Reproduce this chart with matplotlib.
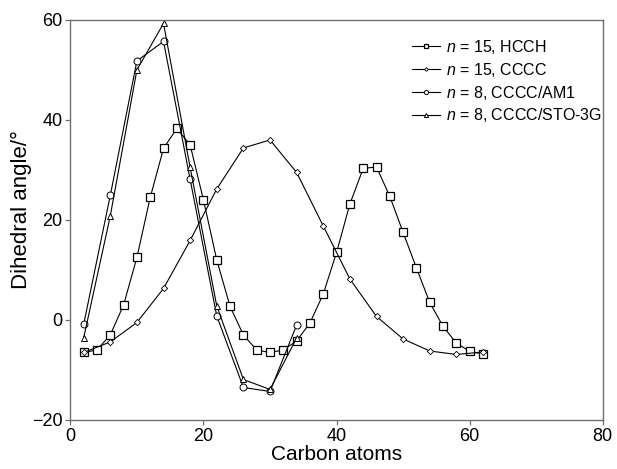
import matplotlib
matplotlib.use("Agg")
import matplotlib.pyplot as plt

plt.rcParams['font.family'] = ['Liberation Sans', 'DejaVu Sans']
plt.rcParams['mathtext.fontset'] = 'custom'
plt.rcParams['mathtext.rm'] = 'Liberation Sans'
plt.rcParams['mathtext.it'] = 'Liberation Sans:italic'

# Data
hcch_x = list(range(2, 63, 2))
hcch_y = [-6.5, -6.0, -3.0, 3.0, 12.5, 24.5, 34.3, 38.3, 35.0, 24.0, 12.0, 2.7,
          -3.0, -6.0, -6.5, -6.0, -4.2, -0.6, 5.2, 13.5, 23.2, 30.3, 30.6, 24.7,
          17.5, 10.4, 3.5, -1.3, -4.6, -6.3, -6.8]

cccc_x = list(range(2, 63, 4))
cccc_y = [-6.5, -4.4, -0.5, 6.3, 15.9, 26.2, 34.4, 36.0, 29.5, 18.8, 8.2, 0.7,
          -3.8, -6.2, -6.9, -6.4]

am1_x = [2, 6, 10, 14, 18, 22, 26, 30, 34]
am1_y = [-0.9, 24.9, 51.8, 55.7, 28.1, 0.8, -13.5, -14.3, -1.0]

sto_x = [2, 6, 10, 14, 18, 22, 26, 30, 34]
sto_y = [-3.6, 20.8, 50.0, 59.3, 30.5, 2.8, -11.9, -13.9, -3.6]

labels = [r'$\mathit{n}$ = 15, HCCH', r'$\mathit{n}$ = 15, CCCC',
          r'$\mathit{n}$ = 8, CCCC/AM1', r'$\mathit{n}$ = 8, CCCC/STO-3G']

fig = plt.figure(figsize=(6.17, 4.69), dpi=100)
ax = fig.add_axes([0.114, 0.1045, 0.863, 0.853])

lw = 0.8
ax.plot(hcch_x, hcch_y, '-', color='black', lw=lw, marker='s', ms=5.2,
        mfc='white', mec='black', mew=0.9, label=labels[0])
ax.plot(cccc_x, cccc_y, '-', color='black', lw=lw, marker='D', ms=3.2,
        mfc='white', mec='black', mew=0.6, label=labels[1])
ax.plot(am1_x, am1_y, '-', color='black', lw=lw, marker='o', ms=5,
        mfc='white', mec='black', mew=0.7, label=labels[2])
ax.plot(sto_x, sto_y, '-', color='black', lw=lw, marker='^', ms=5,
        mfc='white', mec='black', mew=0.7, label=labels[3])

ax.set_xlim(0, 80)
ax.set_ylim(-20, 60)
ax.set_xticks([0, 20, 40, 60, 80])
ax.set_yticks([-20, 0, 20, 40, 60])
ax.tick_params(direction='out', length=3.5, width=0.9, labelsize=13,
               color='#707070', pad=2)
for s in ax.spines.values():
    s.set_color('#707070')
    s.set_linewidth(1.0)

ax.set_xlabel('Carbon atoms', fontsize=15, labelpad=0)
ax.set_ylabel('Dihedral angle/°', fontsize=16)
ax.yaxis.set_label_coords(-0.072, 0.525)

leg = ax.legend(loc='upper right', frameon=False, fontsize=11.5,
                handlelength=1.75, handletextpad=0.4, labelspacing=0.3,
                markerscale=0.6, borderpad=0, borderaxespad=0,
                bbox_to_anchor=(0.999, 0.955))

fig.savefig('out.png', dpi=100)
